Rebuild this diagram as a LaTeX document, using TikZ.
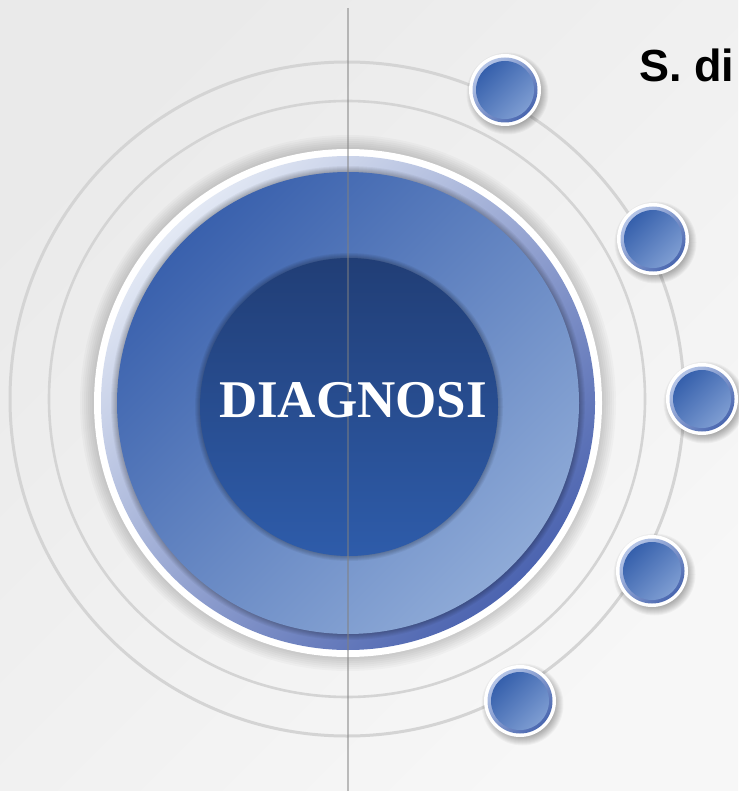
\documentclass[tikz,border=0pt]{standalone}
\usepackage{fontspec}
\setmainfont{Liberation Serif}
\newfontfamily\headfont{Liberation Sans}

\definecolor{bgA}{HTML}{EAEAEA}
\definecolor{bgB}{HTML}{F7F7F7}
\definecolor{ringgray}{HTML}{D4D4D4}
\definecolor{axisgray}{HTML}{808080}
\definecolor{haloLight}{HTML}{E2E8F4}
\definecolor{haloMid}{HTML}{9AA9D4}
\definecolor{haloDark}{HTML}{4C64B0}
\definecolor{discDark}{HTML}{3A61AD}
\definecolor{discLight}{HTML}{8EAAD7}
\definecolor{coreTop}{HTML}{213E76}
\definecolor{coreBottom}{HTML}{2E5CAA}
\definecolor{dotDark}{HTML}{3660AC}
\definecolor{dotLight}{HTML}{7E9DD2}
\definecolor{rimLight}{HTML}{B5C5E7}
\definecolor{rimDark}{HTML}{4966AF}

\begin{document}
\begin{tikzpicture}[x=1pt,y=-1pt,
  guide/.style={draw=ringgray,line width=3pt},
  shadowstep/.style={fill=black,opacity=#1},
  dotbase/.style={circle,fill=white,minimum size=72pt,inner sep=0pt},
  titletext/.style={font=\bfseries\fontsize{53}{53}\selectfont,inner sep=0pt},
]
% canvas and background
\useasboundingbox (0,0) rectangle (738,791);
\shade[top color=bgA,bottom color=bgB,shading angle=45] (0,0) rectangle (738,791);

% concentric guide rings
\coordinate (hub) at (347,399);
\draw[guide] (hub) circle (337pt);
\draw[guide,line width=2.6pt] (hub) circle (298pt);

% main disc: soft drop shadow, white rim, halo ring, blue disc, dark core
\coordinate (disc) at (348,403);
\foreach \k [evaluate=\k as \rr using 268-2*\k] in {0,...,12}
  \fill[shadowstep=0.022,shift={(5,7)}] (disc) circle (\rr pt);
\fill[white] (disc) circle (254pt);
\shade[top color=haloLight,middle color=haloMid,bottom color=haloDark,
  shading angle=45] (disc) circle (247pt);
\foreach \k [evaluate=\k as \rr using 237-1*\k] in {0,...,7}
  \fill[shadowstep=0.045,shift={(1.5,2)}] (disc) circle (\rr pt);
\shade[top color=discDark,bottom color=discLight,shading angle=45]
  (disc) circle (231pt);
\coordinate (core) at (349,407);
\foreach \k [evaluate=\k as \rr using 154-1*\k] in {0,...,6}
  \fill[shadowstep=0.05,shift={(0,1.5)}] (core) circle (\rr pt);
\shade[top color=coreTop,bottom color=coreBottom] (core) circle (149pt);

% small satellite dots on the outer ring
\foreach \name/\px/\py in {d1/505/90,d2/653/239,d3/702/399,d4/652/571,d5/520/701}{
  \foreach \k [evaluate=\k as \rr using 41-1*\k] in {0,...,9}
    \fill[shadowstep=0.035,shift={(2.5,3.5)}] (\px,\py) circle (\rr pt);
  \node[dotbase] (\name) at (\px,\py) {};
  \shade[top color=rimLight,bottom color=rimDark,shading angle=45]
    (\name.center) circle (32.5pt);
  \shade[top color=dotDark,bottom color=dotLight,shading angle=45]
    (\name.center) circle (29pt);
}

% vertical axis
\coordinate (axtop) at (348,8);
\coordinate (axbot) at (348,791);
\draw[axisgray,opacity=0.5,line width=2pt] (axtop) -- (axbot);

% centre title
\node[titletext,text=white] (title) at (353,400) {DIAGNOSI};

% heading
\node[anchor=base west,inner sep=0pt,
  font=\headfont\bfseries\fontsize{45}{45}\selectfont] (head) at (639,82) {S. di};
\end{tikzpicture}
\end{document}
